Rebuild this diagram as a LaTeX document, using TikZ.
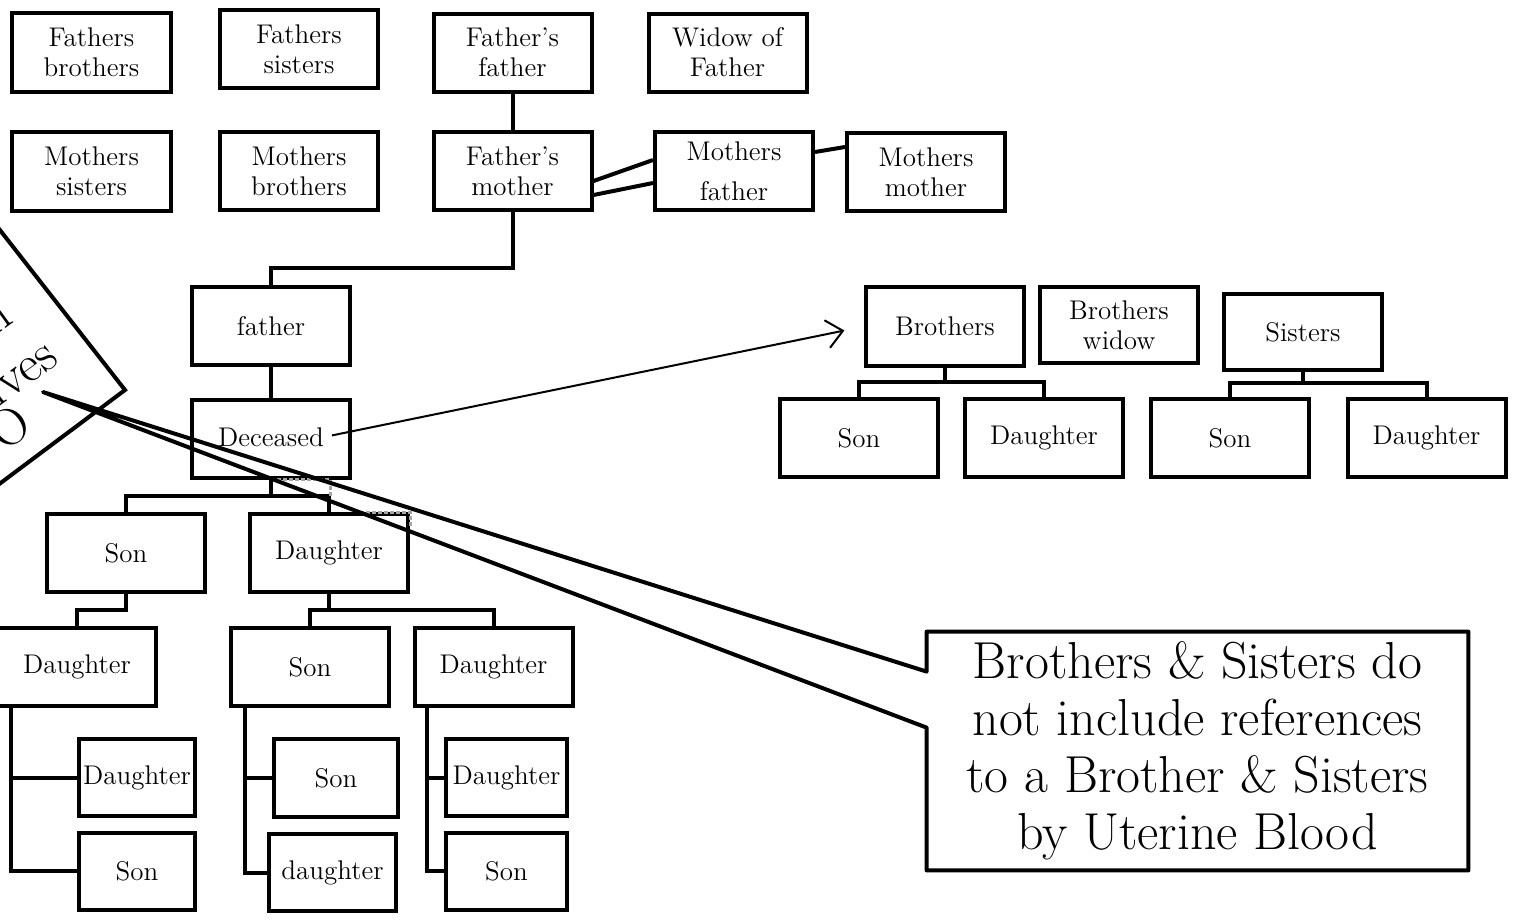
\documentclass[tikz,border=0pt]{standalone}
\usetikzlibrary{calc,arrows.meta}
\begin{document}
\begin{tikzpicture}[x=0.5pt,y=-0.5pt,
  box/.style={draw, line width=2pt, inner sep=0pt, align=center,
    font=\fontsize{13.5}{15}\selectfont, minimum width=79pt, minimum height=39pt},
  conn/.style={line width=2pt},
  rtext/.style={rotate=36, anchor=base east, inner sep=0pt, font=\fontsize{26}{28.5}\selectfont}]
\useasboundingbox (0,0) rectangle (1518,921);
\clip (0,0) rectangle (1518,921);
% top rows
\node[box, minimum width=79.5pt, minimum height=39.5pt] (fb) at (91.5,52.5) {Fathers\\brothers};
\node[box] (fs) at (299,49) {Fathers\\sisters};
\node[box] (ff) at (512.5,52.5) {Father's\\father};
\node[box] (wf) at (727.5,52.5) {Widow of\\Father};
\node[box, minimum width=79.5pt, minimum height=39.5pt] (ms) at (91.5,171.5) {Mothers\\sisters};
\node[box] (mb) at (299,171) {Mothers\\brothers};
\node[box] (fm) at (512.5,171) {Father's\\mother};
\node[box] (mf) at (734,171) {Mothers\\[5pt]father};
\node[box] (mm) at (926,172) {Mothers\\mother};
% main line
\node[box] (fa) at (271,326) {father};
\node[box] (dec) at (271,438.5) {};
\node[inner sep=0pt, font=\fontsize{13.5}{15}\selectfont] (dectext) at (271,437) {Deceased};
\node[box] (s1) at (126,553) {Son};
\node[box] (d1) at (329,553) {Daughter};
\node[box] (g1) at (77,667) {Daughter};
\node[box] (g2) at (310,667) {Son};
\node[box] (g3) at (493.5,667) {Daughter};
\node[box, minimum width=58pt, minimum height=38.5pt] (gg1) at (137,777.5) {Daughter};
\node[box, minimum width=58pt, minimum height=38.5pt] (gg2) at (137,871) {Son};
\node[box, minimum width=62pt] (gg3) at (336,778) {Son};
\node[box, minimum width=63.5pt, minimum height=38.5pt] (gg4) at (332.5,872.5) {daughter};
\node[box, minimum width=60.5pt, minimum height=38.5pt] (gg5) at (506.5,777.5) {Daughter};
\node[box, minimum width=60.5pt, minimum height=38.5pt] (gg6) at (506.5,871) {Son};
% siblings
\node[box, minimum height=39.5pt] (bro) at (945,326.5) {Brothers};
\node[box, minimum height=38pt] (bw) at (1119,325) {Brothers\\widow};
\node[box, minimum height=38pt] (sis) at (1303,332) {Sisters};
\node[box] (bs) at (859,438) {Son};
\node[box] (bd) at (1044,438) {Daughter};
\node[box] (ss) at (1230,438) {Son};
\node[box] (sd) at (1426.5,438) {Daughter};
% connectors
\draw[conn] (ff) -- (fm);
\draw[conn] ($(fm.east)+(0,10)$) -- ($(mf.west)+(0,-11)$);
\draw[conn] ($(fm.east)+(0,24)$) -- ($(mf.west)+(0,12)$);
\draw[conn] ($(mf.east)+(0,-19)$) -- ($(mm.west)+(0,-25)$);
\draw[conn] (fm.south) -- ++(0,56) -| (fa.north);
\draw[conn] (fa) -- (dec);
\draw[conn] (dec.south) -- ++(0,16) -| (s1.north);
\draw[conn] (dec.south) -- ++(0,16) -| (d1.north);
\draw[conn] (s1.south) -- ++(0,16) -| (g1.north);
\draw[conn] (d1.south) -- ++(0,16) -| (g2.north);
\draw[conn] (d1.south) -- ++(0,16) -| (g3.north);
\draw[conn] ($(g1.south west)+(15,0)$) |- (gg1.west);
\draw[conn] ($(g1.south west)+(15,0)$) |- (gg2.west);
\draw[conn] ($(g2.south west)+(16,0)$) |- (gg3.west);
\draw[conn] ($(g2.south west)+(16,0)$) |- (gg4.west);
\draw[conn] ($(g3.south west)+(14.5,0)$) |- (gg5.west);
\draw[conn] ($(g3.south west)+(14.5,0)$) |- (gg6.west);
\draw[conn] (bro.south) -- ++(0,14) -| (bs.north);
\draw[conn] (bro.south) -- ++(0,14) -| (bd.north);
\draw[conn] (sis.south) -- ++(0,11) -| (ss.north);
\draw[conn] (sis.south) -- ++(0,11) -| (sd.north);
\draw[line width=1pt, -{Straight Barb[length=8pt,width=14pt,line width=1pt]}, shorten <=4pt, shorten >=10pt] (dectext.east) -- (bro.west);
% grey dashed fragments
\draw[gray!70, line width=1.5pt, dash pattern=on 2pt off 1pt] (277,479) -- (330,479) -- (330,496);
\draw[gray!70, line width=1.5pt, dash pattern=on 2pt off 1pt] (360,512) -- (410,512) -- (410,527);
% callout
\node[align=center, inner sep=0pt, font=\fontsize{26}{28.5}\selectfont,
  minimum width=270.5pt, minimum height=119pt] (cal) at (1197.5,751)
  {Brothers \& Sisters do\\not include references\\to a Brother \& Sisters\\by Uterine Blood};
\coordinate (tip) at (43,392);
\draw[line width=2pt, line join=round] (cal.north west) -- (cal.north east) -- (cal.south east)
  -- (cal.south west) -- ($(cal.north west)+(0,96)$) -- (tip) -- ($(cal.north west)+(0,40)$) -- cycle;
% rotated box at left
\draw[line width=2pt] (-65,147) -- (125,390) -- (-77,541);
\node[rtext] (rt1) at (15,322) {Distant Kin};
\node[rtext] (rt2) at (61,362) {Relatives};
\node[rtext] (rt3) at (35,430) {O};
\end{tikzpicture}
\end{document}
